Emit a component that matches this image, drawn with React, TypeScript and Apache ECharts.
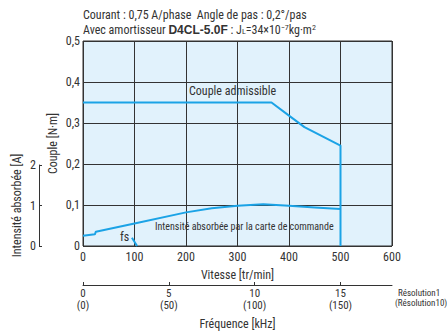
import React, { useEffect, useRef } from "react";
import * as echarts from "echarts";

const speedTicks = [0, 100, 200, 300, 400, 500, 600];
const torqueTicks = [0, 0.1, 0.2, 0.3, 0.4, 0.5];
const currentTicks = [0, 1, 2];
const freqTicks = [0, 5, 10, 15];
const freqTicks10 = [0, 50, 100, 150];

// Couple admissible [N·m] vs vitesse [tr/min]
const torqueCurve: [number, number][] = [
  [0, 0.35], [366, 0.35], [400, 0.318], [430, 0.29], [500, 0.245], [500, 0],
];
// Intensité absorbée [A] vs vitesse
const currentCurve: [number, number][] = [
  [0, 0.25], [23, 0.285], [25, 0.35], [100, 0.55], [200, 0.82], [250, 0.92],
  [300, 0.98], [350, 1.02], [400, 0.98], [450, 0.94], [500, 0.9],
];
// fs
const fsCurve: [number, number][] = [[95, 0.02], [105, 0]];

const FONT = '"Liberation Sans Narrow", "Roboto Condensed", "DejaVu Sans Condensed", sans-serif';
const BLUE = "#1ba3e6";
const TXT = "#333";

export default function App() {
  const ref = useRef<HTMLDivElement>(null);
  useEffect(() => {
    if (!ref.current) return;
    const chart = echarts.init(ref.current, null, { renderer: "svg" });
    const fmtComma = (v: number) => (v === 0 ? "0" : v.toFixed(1).replace(".", ","));
    const nameStyle = { fontFamily: FONT, fontSize: 12, fontWeight: "normal", color: TXT };
    chart.setOption({
      animation: false,
      textStyle: { fontFamily: FONT, color: TXT },
      grid: [
        { left: 83, right: 55, top: 41, bottom: 86, show: true, backgroundColor: "#e1f2fc", borderColor: "#333", borderWidth: 1 },
        { left: 39, width: 10, top: 165, bottom: 86 },
        { left: 83, right: 55, top: 284, height: 1 },
      ],
      title: [
        {
          left: 83, top: 9, padding: 0,
          text: "Courant : 0,75 A/phase  Angle de pas : 0,2°/pas",
          textStyle: { fontFamily: FONT, fontSize: 12, fontWeight: "normal", color: TXT },
        },
        {
          left: 83, top: 23, padding: 0,
          text: "Avec amortisseur {b|D4CL-5.0F} : J{sub|L}=34×10{sup|−7}kg·m{sup|2}",
          textStyle: {
            fontFamily: FONT, fontSize: 12, fontWeight: "normal", color: TXT,
            rich: {
              b: { fontFamily: "Liberation Sans, Arial, sans-serif", fontWeight: "bold", fontSize: 12, color: TXT },
              sup: { fontFamily: FONT, fontSize: 8, color: TXT, padding: [0, 0, 6, 0] },
              sub: { fontFamily: FONT, fontSize: 8, color: TXT, padding: [3, 0, 0, 0] },
            },
          },
        },
      ],
      xAxis: [
        {
          gridIndex: 0, type: "value", min: 0, max: 600, interval: 100,
          name: "Vitesse [tr/min]", nameLocation: "middle", nameGap: 23,
          nameTextStyle: nameStyle,
          axisLine: { show: false }, axisTick: { show: false },
          axisLabel: { fontFamily: FONT, fontSize: 12, color: TXT, margin: 5 },
          splitLine: { show: true, lineStyle: { color: "#333", width: 1 } },
        },
        { gridIndex: 1, type: "value", min: 0, max: 1, show: false },
        {
          gridIndex: 2, type: "value", min: 0, max: 18, position: "bottom",
          name: "Fréquence [kHz]", nameLocation: "middle", nameGap: 33,
          nameTextStyle: nameStyle,
          axisLine: { show: true, lineStyle: { color: "#333", width: 1 } },
          axisTick: { show: true, inside: true, length: 3, customValues: freqTicks, lineStyle: { color: "#333" } },
          axisLabel: {
            fontFamily: FONT, fontSize: 11, color: TXT, margin: 3,
            customValues: freqTicks,
          },
          splitLine: { show: false },
        },
        {
          gridIndex: 2, type: "value", min: 0, max: 18, position: "bottom",
          axisLine: { show: false }, axisTick: { show: false },
          axisLabel: {
            fontFamily: FONT, fontSize: 11, color: TXT, margin: 15,
            customValues: freqTicks,
            formatter: (v: number) => `(${freqTicks10[freqTicks.indexOf(v)]})`,
          },
          splitLine: { show: false },
        },
      ],
      yAxis: [
        {
          gridIndex: 0, type: "value", min: 0, max: 0.5, interval: 0.1,
          name: "Couple [N·m]", nameLocation: "middle", nameGap: 24, nameRotate: 90,
          nameMoveOverlap: false,
          nameTextStyle: nameStyle,
          axisLine: { show: false }, axisTick: { show: false },
          axisLabel: { fontFamily: FONT, fontSize: 12, color: TXT, margin: 3, formatter: fmtComma },
          splitLine: { show: true, lineStyle: { color: "#333", width: 1 } },
        },
        { gridIndex: 0, type: "value", min: 0, max: 5, show: false },
        {
          gridIndex: 1, type: "value", min: 0, max: 2, interval: 1, position: "left",
          name: "Intensité absorbée [A]", nameLocation: "middle", nameGap: 16, nameRotate: 90,
          nameTextStyle: nameStyle,
          axisLine: { show: true, lineStyle: { color: "#333", width: 1 } },
          axisTick: { show: true, inside: true, length: 3, lineStyle: { color: "#333" } },
          axisLabel: { fontFamily: FONT, fontSize: 12, color: TXT, margin: 3 },
          splitLine: { show: false },
        },
        { gridIndex: 2, type: "value", min: 0, max: 1, show: false },
      ],
      series: [
        {
          type: "line", xAxisIndex: 0, yAxisIndex: 0, data: torqueCurve, symbol: "none",
          lineStyle: { color: BLUE, width: 2 }, z: 5,
        },
        {
          type: "line", xAxisIndex: 0, yAxisIndex: 1, data: currentCurve, symbol: "none",
          lineStyle: { color: BLUE, width: 2 }, z: 5,
        },
        {
          type: "line", xAxisIndex: 0, yAxisIndex: 0, data: fsCurve, symbol: "none",
          lineStyle: { color: BLUE, width: 2 }, z: 5,
        },
      ],
      graphic: [
        { type: "text", left: 189, top: 85, style: { text: "Couple admissible", font: `12px ${FONT}`, fill: TXT } },
        { type: "text", left: 155, top: 221, style: { text: "Intensité absorbée par la carte de commande", font: `10px ${FONT}`, fill: TXT } },
        { type: "text", left: 120, top: 231, style: { text: "fs", font: `12px ${FONT}`, fill: TXT } },
        { type: "text", left: 398, top: 288, style: { text: "Résolution1", font: `9px ${FONT}`, fill: TXT } },
        { type: "text", left: 395, top: 298, style: { text: "(Résolution10)", font: `9px ${FONT}`, fill: TXT } },
      ],
    });
    return () => chart.dispose();
  }, []);
  return <div ref={ref} style={{ width: 447, height: 332, position: "absolute", left: 0, top: 0 }} />;
}
